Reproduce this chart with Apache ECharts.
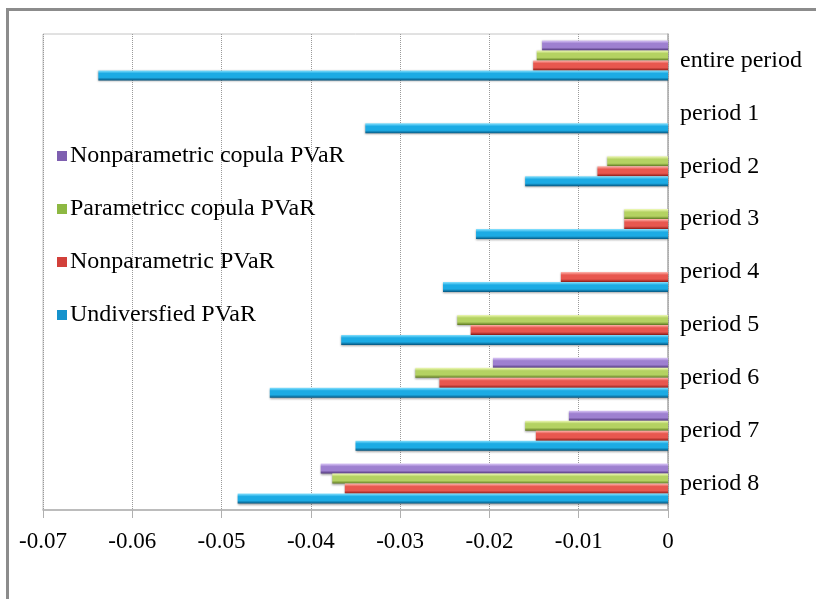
<!DOCTYPE html>
<html>
<head>
<meta charset="utf-8">
<script src="https://cdn.jsdelivr.net/npm/echarts@6/dist/echarts.min.js"></script>
<style>
html,body{margin:0;padding:0;background:#fff;}
#c{width:816px;height:599px;}
</style>
</head>
<body>
<div id="c"></div>
<script>
const categories = ['entire period','period 1','period 2','period 3','period 4','period 5','period 6','period 7','period 8'];
const seriesNames = ['Nonparametric copula PVaR','Parametricc copula PVaR','Nonparametric PVaR','Undiversfied PVaR'];
const nonparamCopula = [-0.0141, null, null, null, null, null, -0.0196, -0.0111, -0.0389];
const paramCopula    = [-0.0147, null, -0.0068, -0.0049, null, -0.0236, -0.0283, -0.0160, -0.0376];
const nonparam       = [-0.0151, null, -0.0079, -0.0049, -0.0120, -0.0221, -0.0256, -0.0148, -0.0362];
const undiversified  = [-0.0638, -0.0339, -0.0160, -0.0215, -0.0252, -0.0366, -0.0446, -0.0350, -0.0482];
const xTicks = [-0.07, -0.06, -0.05, -0.04, -0.03, -0.02, -0.01, 0];

const seriesData = [nonparamCopula, paramCopula, nonparam, undiversified];
const palettes = [
  ['#dcc8f8', '#9e80d0', '#4e3478'],
  ['#f0fab8', '#b4d262', '#5f7a22'],
  ['#ffb8b0', '#e8574f', '#8e1c18'],
  ['#88e2ff', '#1cabe4', '#05557f']
];
const legendColors = ['#7e5fb0', '#8db842', '#d2403a', '#1592cc'];

function grad(p){
  return new echarts.graphic.LinearGradient(0,0,0,1,[
    {offset:0, color:p[0]},
    {offset:0.3, color:p[1]},
    {offset:0.7, color:p[1]},
    {offset:1, color:p[2]}
  ]);
}

const chart = echarts.init(document.getElementById('c'), null, {renderer:'canvas'});
const font = '"Liberation Serif", "Times New Roman", serif';

chart.setOption({
  animation:false,
  backgroundColor:'#fff',
  graphic:[{
    type:'rect', left:5, top:7, z:-10,
    shape:{width:900, height:700},
    style:{fill:null, stroke:'#8c8c8c', lineWidth:3}
  }],
  grid:{left:43, right:148, top:34, bottom:89, show:true, borderColor:'#c4c4c4', borderWidth:1, containLabel:false},
  legend:{
    orient:'vertical', left:52, top:139, itemGap:29,
    itemWidth:10, itemHeight:10, icon:'rect',
    data:seriesNames.map((n,i)=>({name:n, itemStyle:{color:legendColors[i]}})),
    textStyle:{fontFamily:font, fontSize:24, color:'#000', padding:[0,0,0,-2]}
  },
  xAxis:{
    type:'value', min:-0.07, max:0, interval:0.01, position:'bottom',
    axisLine:{show:true, lineStyle:{color:'#b0b0b0', width:1.5}},
    axisTick:{show:true, length:8, lineStyle:{color:'#b0b0b0'}},
    splitLine:{show:true, lineStyle:{type:'dotted', color:'#9a9a9a'}},
    axisLabel:{margin:20, fontFamily:font, fontSize:23, color:'#000',
      formatter:v=>{ const t = xTicks.find(x=>Math.abs(x-v)<1e-9); return t===0 ? '0' : (t!==undefined ? t.toFixed(2) : ''); }}
  },
  yAxis:{
    type:'category', data:categories, inverse:true, position:'right',
    axisLine:{show:true, onZero:false, lineStyle:{color:'#b0b0b0', width:1.5}},
    axisTick:{show:false},
    axisLabel:{margin:12, fontFamily:font, fontSize:24, color:'#000'}
  },
  series:seriesData.map((d,i)=>({
    name:seriesNames[i], type:'bar', data:d,
    barWidth:10, barGap:'0%',
    itemStyle:{color:grad(palettes[i]), shadowColor:'rgba(0,0,0,0.35)', shadowBlur:2, shadowOffsetY:1}
  }))
});
</script>
</body>
</html>
